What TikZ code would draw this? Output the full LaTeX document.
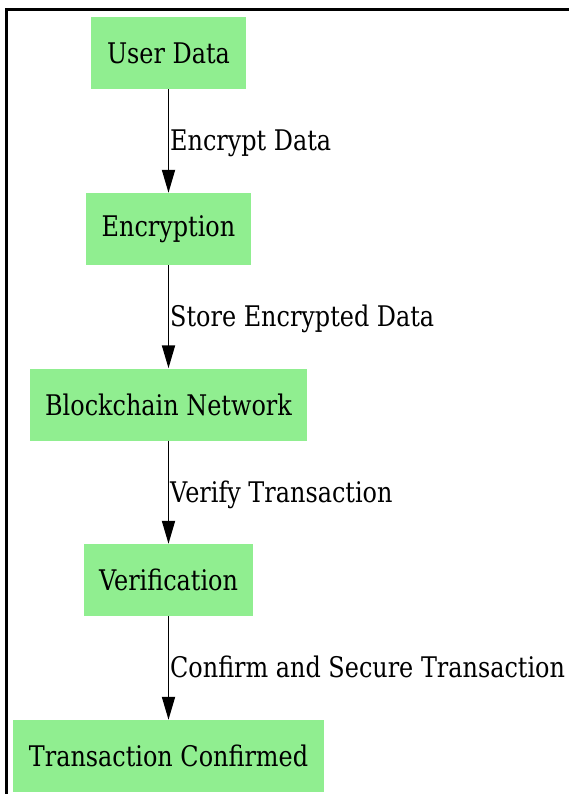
\documentclass[tikz,border=0pt]{standalone}
\usepackage{fontspec}
\setmainfont[FakeStretch=0.842]{DejaVu Serif}
\usetikzlibrary{arrows.meta}
\definecolor{boxgreen}{HTML}{90EE90}
\tikzset{
  box/.style={fill=boxgreen, draw=none, minimum height=72pt, inner sep=0pt,
    font=\fontsize{28.4}{34}\selectfont, text=black},
  edge/.style={draw=black, line width=1.8pt, -{Triangle[length=23pt,width=13pt]}},
  elabel/.style={anchor=base west, inner sep=0pt, font=\fontsize{28.4}{34}\selectfont, text=black},
  frame/.style={draw=black, line width=2.6pt}
}
\begin{document}
\begin{tikzpicture}[x=1pt,y=-1pt]
\useasboundingbox (0,0) rectangle (569,794);
\coordinate (f1) at (6.5,794);
\coordinate (f2) at (6.5,9.5);
\coordinate (f3) at (569,9.5);
\draw[frame] (f1) -- (f2) -- (f3);

\node[box, minimum width=155pt] (user) at (168.5,53) {User Data};
\node[box, minimum width=165pt] (enc) at (168.5,229) {Encryption};
\node[box, minimum width=277pt] (bc) at (168.5,404.5) {Blockchain Network};
\node[box, minimum width=169pt] (ver) at (168.5,580) {Verification};
\node[box, minimum width=311pt] (tc) at (168.5,756) {Transaction Confirmed};

\draw[edge] (user.south) -- (enc.north);
\draw[edge] (enc.south) -- (bc.north);
\draw[edge] (bc.south) -- (ver.north);
\draw[edge] (ver.south) -- (tc.north);

\node[elabel] (l1) at (170,151) {Encrypt Data};
\node[elabel] (l2) at (170,326) {Store Encrypted Data};
\node[elabel] (l3) at (170,502) {Verify Transaction};
\node[elabel] (l4) at (170,677) {Confirm and Secure Transaction};
\end{tikzpicture}
\end{document}
